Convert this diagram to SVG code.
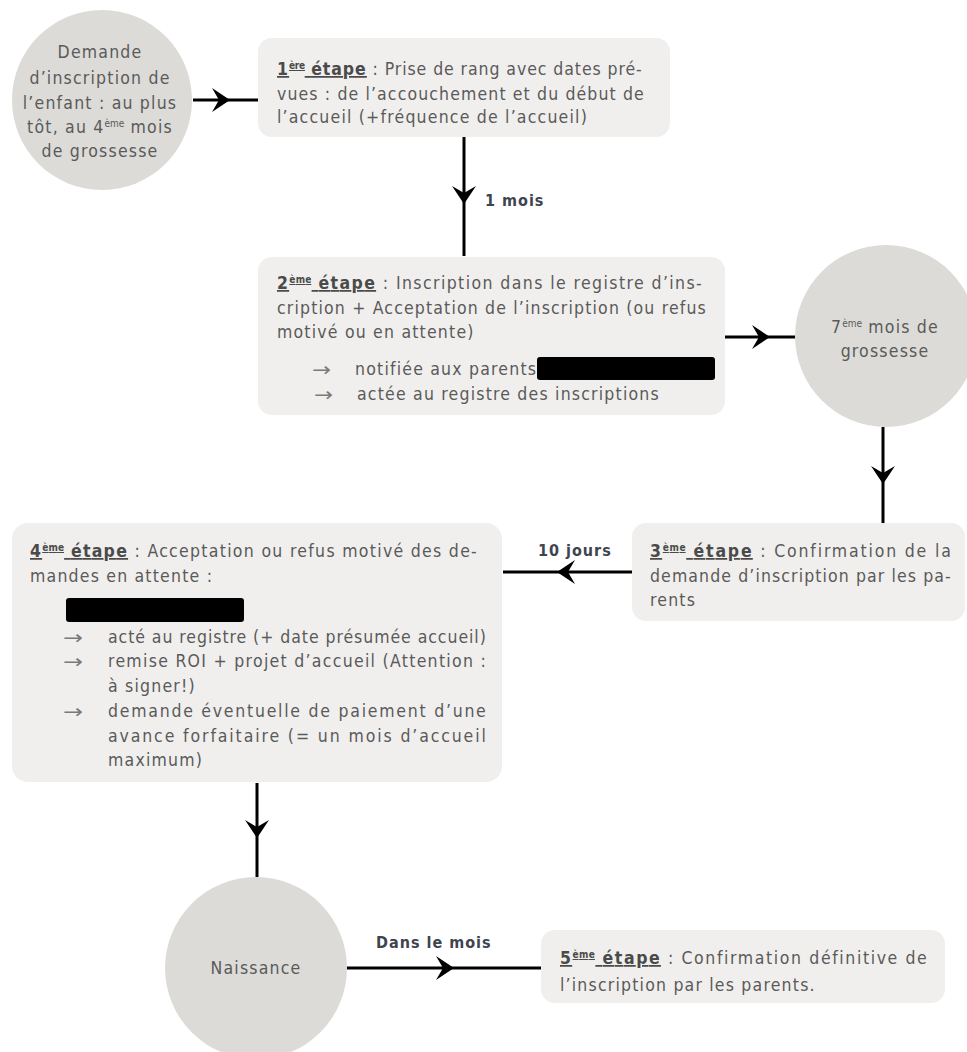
<svg xmlns="http://www.w3.org/2000/svg" width="967" height="1052" viewBox="0 0 967 1052">
<style>
text{font-family:"DejaVu Sans Condensed","DejaVu Sans",sans-serif;font-size:17.5px;letter-spacing:1.2px;fill:#5a5a5a}
.c{text-anchor:middle;letter-spacing:1.2px}
.st{font-weight:bold;text-decoration:underline;fill:#4a4a4a}
.sup{font-size:10px;letter-spacing:0}
.lbl{font-weight:bold;font-size:16px;letter-spacing:1px;fill:#3e4450}
.ar{font-family:"DejaVu Sans",sans-serif;font-size:19px;letter-spacing:0;fill:#7a7a7a}
.circ{fill:#dcdbd8}
.box{fill:#f0efed}
.red{fill:#000}
.conn{stroke:#000;stroke-width:3;fill:none;marker-mid:url(#head)}
</style>
<defs>
<marker id="head" markerUnits="userSpaceOnUse" markerWidth="30" markerHeight="30" viewBox="-20 -15 30 30" refX="0" refY="0" orient="auto" overflow="visible">
<path d="M0,0 L-18,-12 L-11,0 L-18,12 Z" fill="#000"/>
</marker>
</defs>

<g id="connectors">
<path class="conn" d="M193,100 L230,100 L258,100"/>
<path class="conn" d="M464,137 L464,204 L464,256"/>
<path class="conn" d="M725,337 L770,337 L795,337"/>
<path class="conn" d="M883,427 L883,484 L883,523"/>
<path class="conn" d="M632,572 L557,572 L503,572"/>
<path class="conn" d="M257,783 L257,838 L257,877"/>
<path class="conn" d="M347,968 L454,968 L541,968"/>
<text class="lbl" x="485" y="206">1 mois</text>
<text class="lbl" x="538" y="556">10 jours</text>
<text class="lbl" x="376" y="948">Dans le mois</text>
</g>

<g id="node-demande">
<circle class="circ" cx="102" cy="100" r="90"/>
<text class="c" x="100" y="58">Demande</text>
<text class="c" x="100" y="84">d’inscription de</text>
<text class="c" x="100" y="109">l’enfant : au plus</text>
<text class="c" x="100" y="133">tôt, au 4<tspan class="sup" baseline-shift="6">ème</tspan> mois</text>
<text class="c" x="100" y="157">de grossesse</text>
</g>

<g id="node-etape1">
<rect class="box" x="258" y="38" width="412" height="99" rx="14"/>
<text x="277" y="75" textLength="366" lengthAdjust="spacing"><tspan class="st">1<tspan class="sup" baseline-shift="6">ère</tspan> étape</tspan> : Prise de rang avec dates pré-</text>
<text x="277" y="100" textLength="368" lengthAdjust="spacing">vues : de l’accouchement et du début de</text>
<text x="277" y="123">l’accueil (+fréquence de l’accueil)</text>
</g>

<g id="node-etape2">
<rect class="box" x="258" y="257" width="467" height="158" rx="14"/>
<text x="277" y="289" textLength="426" lengthAdjust="spacing"><tspan class="st">2<tspan class="sup" baseline-shift="6">ème</tspan> étape</tspan> : Inscription dans le registre d’ins-</text>
<text x="277" y="314" textLength="430" lengthAdjust="spacing">cription + Acceptation de l’inscription (ou refus</text>
<text x="277" y="338">motivé ou en attente)</text>
<text class="ar" x="312" y="376" textLength="19" lengthAdjust="spacingAndGlyphs">→</text>
<text x="355" y="375">notifiée aux parents</text>
<rect class="red" x="537" y="357" width="178" height="23" rx="3"/>
<text class="ar" x="314" y="401" textLength="19" lengthAdjust="spacingAndGlyphs">→</text>
<text x="357" y="400">actée au registre des inscriptions</text>
</g>

<g id="node-7mois">
<circle class="circ" cx="886" cy="336" r="91"/>
<text class="c" x="885" y="333">7<tspan class="sup" baseline-shift="6">ème</tspan> mois de</text>
<text class="c" x="885" y="357">grossesse</text>
</g>

<g id="node-etape3">
<rect class="box" x="632" y="523" width="333" height="98" rx="14"/>
<text x="650" y="557" textLength="302" lengthAdjust="spacing"><tspan class="st">3<tspan class="sup" baseline-shift="6">ème</tspan> étape</tspan> : Confirmation de la</text>
<text x="650" y="582" textLength="302" lengthAdjust="spacing">demande d’inscription par les pa-</text>
<text x="650" y="606">rents</text>
</g>

<g id="node-etape4">
<rect class="box" x="12" y="523" width="490" height="259" rx="16"/>
<text x="30" y="557" textLength="448" lengthAdjust="spacing"><tspan class="st">4<tspan class="sup" baseline-shift="6">ème</tspan> étape</tspan> : Acceptation ou refus motivé des de-</text>
<text x="30" y="582">mandes en attente :</text>
<rect class="red" x="66" y="598" width="178" height="24" rx="3"/>
<text class="ar" x="63" y="644" textLength="20" lengthAdjust="spacingAndGlyphs">→</text>
<text x="108" y="643" textLength="379" lengthAdjust="spacing">acté au registre (+ date présumée accueil)</text>
<text class="ar" x="63" y="668" textLength="20" lengthAdjust="spacingAndGlyphs">→</text>
<text x="108" y="667" textLength="379" lengthAdjust="spacing">remise ROI + projet d’accueil (Attention :</text>
<text x="108" y="692">à signer!)</text>
<text class="ar" x="63" y="718" textLength="20" lengthAdjust="spacingAndGlyphs">→</text>
<text x="108" y="717" textLength="379" lengthAdjust="spacing">demande éventuelle de paiement d’une</text>
<text x="108" y="742" textLength="379" lengthAdjust="spacing">avance forfaitaire (= un mois d’accueil</text>
<text x="108" y="766">maximum)</text>
</g>

<g id="node-naissance">
<circle class="circ" cx="256" cy="968" r="91"/>
<text class="c" x="256" y="974">Naissance</text>
</g>

<g id="node-etape5">
<rect class="box" x="541" y="930" width="404" height="73" rx="14"/>
<text x="560" y="964" textLength="368" lengthAdjust="spacing"><tspan class="st">5<tspan class="sup" baseline-shift="6">ème</tspan> étape</tspan> : Confirmation définitive de</text>
<text x="560" y="991">l’inscription par les parents.</text>
</g>
</svg>
